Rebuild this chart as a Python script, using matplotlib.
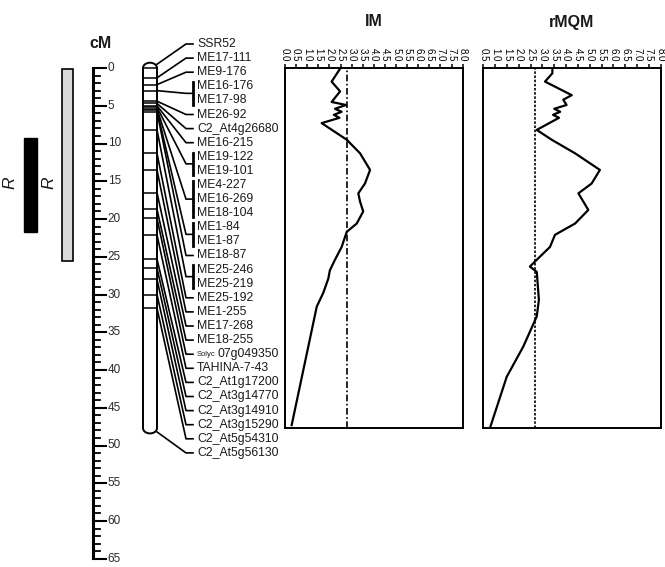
import numpy as np
import matplotlib
matplotlib.use("Agg")
import matplotlib.pyplot as plt
from matplotlib.patches import Rectangle, Arc

plt.rcParams['font.family'] = ['Liberation Sans', 'DejaVu Sans']

# figure layout (pixels) and map scale
W, H = 665, 567
PX_PER_CM = 7.55
CM0_PX = 68          # pixel row of 0 cM
LABEL_TOP_PX = 44    # first marker label row
LABEL_STEP_PX = 14.1

# ---------------- data ----------------
marker_names = [
    "SSR52", "ME17-111", "ME9-176", "ME16-176", "ME17-98", "ME26-92",
    "C2_At4g26680", "ME16-215", "ME19-122", "ME19-101", "ME4-227",
    "ME16-269", "ME18-104", "ME1-84", "ME1-87", "ME18-87", "ME25-246",
    "ME25-219", "ME25-192", "ME1-255", "ME17-268", "ME18-255",
    "Solyc07g049350", "TAHINA-7-43", "C2_At1g17200", "C2_At3g14770",
    "C2_At3g14910", "C2_At3g15290", "C2_At5g54310", "C2_At5g56130",
]
marker_cm = [
    0.0, 1.3, 2.2, 3.0, 3.0, 4.4,
    4.7, 5.0, 5.2, 5.2, 5.4,
    5.4, 5.4, 5.6, 5.6, 5.8, 8.2,
    8.2, 11.3, 13.5, 16.5, 18.7,
    19.9, 22.1, 25.3, 26.5,
    28.0, 30.0, 31.8, 47.7,
]
chrom_len = 47.7
ruler_max = 65

black_bar = (9.3, 21.7)   # cM interval
grey_bar = (0.1, 25.6)

im_cm = [0.0, 1.8, 3.1, 4.5, 4.9, 5.4, 5.8, 6.2, 6.6, 7.3, 9.5, 11.3, 13.5,
         15.3, 16.6, 17.7, 19.0, 20.6, 21.7, 23.7, 25.4, 26.8, 27.9, 29.8,
         31.6, 47.3]
im_lod = [2.5, 2.1, 2.48, 2.1, 2.75, 2.25, 2.55, 2.2, 2.45, 1.65, 2.78, 3.38,
          3.83, 3.6, 3.3, 3.38, 3.52, 3.23, 2.78, 2.55, 2.25, 2.02, 1.95, 1.72,
          1.43, 0.3]
im_thr = 2.8

rmqm_cm = [0.0, 0.7, 1.8, 3.6, 4.2, 4.9, 5.4, 5.8, 6.2, 6.6, 8.2, 9.5, 11.3,
           13.5, 15.3, 16.6, 18.8, 20.6, 22.1, 23.7, 25.4, 26.3, 27.0, 30.7,
           32.9, 36.9, 40.9, 47.7]
rmqm_lod = [3.42, 3.42, 3.11, 4.24, 3.88, 4.02, 3.5, 3.75, 3.45, 3.7, 2.76,
            3.39, 4.38, 5.43, 5.08, 4.52, 4.94, 4.38, 3.53, 3.32, 2.76, 2.47,
            2.76, 2.85, 2.76, 2.19, 1.49, 0.78]
rmqm_thr = 2.7


def px2cm(y):
    return (y - CM0_PX) / PX_PER_CM


fig = plt.figure(figsize=(W / 100, H / 100), dpi=100)
ax = fig.add_axes([0, 0, 1, 1])
ax.set_xlim(0, W)
ax.set_ylim(px2cm(H), px2cm(0))
ax.axis("off")

ink = "#000000"
txt = "#1a1a1a"

# --- QTL interval bars ---
ax.add_patch(Rectangle((24, black_bar[0]), 13, black_bar[1] - black_bar[0],
                       facecolor="black", edgecolor="black"))
ax.add_patch(Rectangle((62, grey_bar[0]), 11, grey_bar[1] - grey_bar[0],
                       facecolor="#d9d9d9", edgecolor="black", lw=1.2))
ax.text(10, px2cm(183), "R", rotation=90, style="italic", fontsize=12.5,
        ha="center", va="center", color=txt)
ax.text(49, px2cm(183), "R", rotation=90, style="italic", fontsize=12.5,
        ha="center", va="center", color=txt)

# --- cM ruler ---
rx = 92.7
ax.plot([rx, rx], [0, ruler_max], color=ink, lw=2.2, solid_capstyle="butt")
for c in range(ruler_max + 1):
    major = c % 5 == 0
    ax.plot([rx, rx + (13 if major else 7)], [c, c], color=ink,
            lw=1.5 if major else 1.3)
    if major:
        ax.text(rx + 15, c, str(c), fontsize=8.5, va="center", ha="left",
                color="#2a2a2a")
ax.text(100, px2cm(43), "cM", fontsize=11.5, fontweight="bold", ha="center",
        va="center", color=txt)

# --- chromosome ---
cx0, cx1 = 143, 157
ax.plot([cx0, cx0], [0, chrom_len], color=ink, lw=1.4)
ax.plot([cx1, cx1], [0, chrom_len], color=ink, lw=1.4)
cap = 1.4
ax.add_patch(Arc(((cx0 + cx1) / 2, 0), cx1 - cx0, cap, theta1=180, theta2=360,
                 color=ink, lw=1.4))
ax.add_patch(Arc(((cx0 + cx1) / 2, chrom_len), cx1 - cx0, cap, theta1=0,
                 theta2=180, color=ink, lw=1.4))
for c in sorted(set(marker_cm)):
    if c < chrom_len:
        ax.plot([cx0, cx1], [c, c], color=ink, lw=1.1)

# --- marker labels and connectors ---
label_y = [px2cm(LABEL_TOP_PX + i * LABEL_STEP_PX) for i in range(len(marker_names))]
groups = []
for i, c in enumerate(marker_cm):
    if groups and marker_cm[groups[-1][0]] == c:
        groups[-1].append(i)
    else:
        groups.append([i])

x_bend, x_end = 186, 193
for g in groups:
    c = marker_cm[g[0]]
    if c == 0:
        c_start = -cap / 2 + 0.2
    elif c >= chrom_len:
        c_start = chrom_len + cap / 2 - 0.2
    else:
        c_start = c
    ys = [label_y[i] for i in g]
    ymid = (ys[0] + ys[-1]) / 2
    ax.plot([cx1, x_bend, x_end], [c_start, ymid, ymid], color=ink, lw=1.2)
    if len(g) > 1:
        ax.plot([x_end, x_end], [ys[0] - 0.55, ys[-1] + 0.55], color=ink, lw=2)

for name, y in zip(marker_names, label_y):
    if name.startswith("Solyc"):
        ax.text(197, y, "Solyc", fontsize=5.5, va="center", ha="left", color=txt)
        ax.text(217, y, name[5:], fontsize=8.8, va="center", ha="left", color=txt)
    else:
        ax.text(197, y, name, fontsize=8.8, va="center", ha="left", color=txt)

# --- LOD panels ---
top_px = CM0_PX
bot_px = CM0_PX + chrom_len * PX_PER_CM


def lod_panel(left_px, right_px, xmin, lods, cms, thr, title, ls):
    pax = fig.add_axes([left_px / W, 1 - bot_px / H, (right_px - left_px) / W,
                        (bot_px - top_px) / H])
    pax.plot(lods, cms, color=ink, lw=1.6)
    pax.axvline(thr, color=ink, lw=1.2, ls=ls)
    pax.set_xlim(xmin, 8.0)
    pax.set_ylim(chrom_len, 0)
    ticks = np.arange(xmin, 8.01, 0.5)
    pax.set_xticks(ticks)
    pax.set_xticklabels([f"{t:.1f}" for t in ticks])
    pax.xaxis.set_ticks_position("top")
    pax.tick_params(axis="x", direction="out", length=3, width=1.1, pad=1.5,
                    labelsize=7, labelrotation=-90, colors=ink)
    pax.set_yticks([])
    for s in pax.spines.values():
        s.set_linewidth(1.4)
        s.set_color(ink)
    fig.text((left_px + right_px) / 2 / W, 1 - 22 / H, title, fontsize=11.5,
             fontweight="bold", ha="center", va="center", color=txt)
    return pax


lod_panel(285, 462.7, 0.0, im_lod, im_cm, im_thr, "IM", (0, (4, 1.5, 1, 1.5)))
lod_panel(483.3, 660.7, 0.5, rmqm_lod, rmqm_cm, rmqm_thr, "rMQM", (0, (1.5, 1)))

fig.savefig("out.png", dpi=100)
